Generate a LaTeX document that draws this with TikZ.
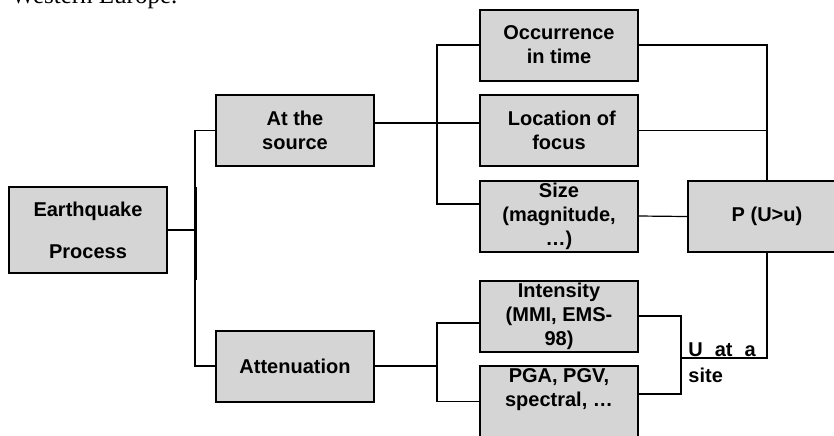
\documentclass[tikz,border=0pt]{standalone}
\usepackage{fontspec}
\setmainfont{Liberation Serif}
\setsansfont{Liberation Sans}
\usetikzlibrary{positioning,calc}
\definecolor{boxgray}{RGB}{213,213,213}

\tikzset{
  stepbox/.style={draw, line width=1pt, fill=boxgray, minimum width=79pt,
    minimum height=35.5pt, inner sep=0pt, align=center,
    font=\sffamily\bfseries\fontsize{10}{12}\selectfont},
  wire/.style={line width=0.6pt}
}

\begin{document}
\begin{tikzpicture}[x=0.5pt,y=-0.5pt]
\useasboundingbox (0,0) rectangle (834,435);
\clip (0,0) rectangle (834,435);
% end of the text line above the figure
\node[anchor=base west, inner sep=0pt, font=\fontsize{12.5}{15}\selectfont] (page) at (11,3.5) {Western Europe.};

% boxes
\node[stepbox, minimum height=43pt, font=\sffamily\bfseries\fontsize{10}{21}\selectfont] (quake) at (88,230) {Earthquake\\Process};
\node[stepbox] (source) at (295,130.5) {At the\\source};
\node[stepbox] (atten) at (295,366) {Attenuation};
\node[stepbox] (time) at (559,45) {Occurrence\\in time};
\node[stepbox] (focus) at (559,130.5) {\ Location of\\focus};
\node[stepbox] (size) at (559,216) {Size\\(magnitude,\\…)};
\node[stepbox] (prob) at (767,216.5) {P (U>u)};
\node[stepbox] (intens) at (559,316) {Intensity\\(MMI, EMS-\\98)};
\node[stepbox] (pga) at (559,401.5) {PGA, PGV,\\spectral, …\\[2pt]};
\node[anchor=north west, inner sep=0pt, align=left,
  font=\sffamily\bfseries\fontsize{10}{13}\selectfont] (sitelbl) at (688,342) {U\hspace{0.6em}at\hspace{0.6em}a\\site};

% junctions
\coordinate (split) at (195,230);
\coordinate (barTop) at (195,187);
\coordinate (barBot) at (195,280);
\coordinate (fanA) at (437,123);
\coordinate (fanAbot) at (437,204);
\coordinate (fanB) at (437,366);
\coordinate (intin) at ($(intens.west)+(0,7)$);
\coordinate (site) at (681,358);
\coordinate (pgaout) at (638,394);

% left tree
\draw[wire] (quake.east) -- (split);
\draw[line width=1.5pt] (barTop) -- (barBot);
\draw[wire] (source.west) -| (split) |- (atten.west);

% source branch
\draw[wire] (source.east |- fanA) -- (focus.west |- fanA);
\draw[wire] (time.west) -| (fanAbot) -- (size.west |- fanAbot);
\draw[wire] (time.east) -| (prob.north);
\draw[wire] (focus.east) -- (focus.east -| prob.north);
\draw[wire] (size.east) -- (prob.west);

% attenuation branch
\draw[wire] (atten.east) -- (fanB);
\draw[wire] (intin) -| (fanB) |- (pga.west);
\draw[wire] (prob.south) |- (site);
\draw[wire] (intens.east) -| (site) |- (pgaout);
\end{tikzpicture}
\end{document}
